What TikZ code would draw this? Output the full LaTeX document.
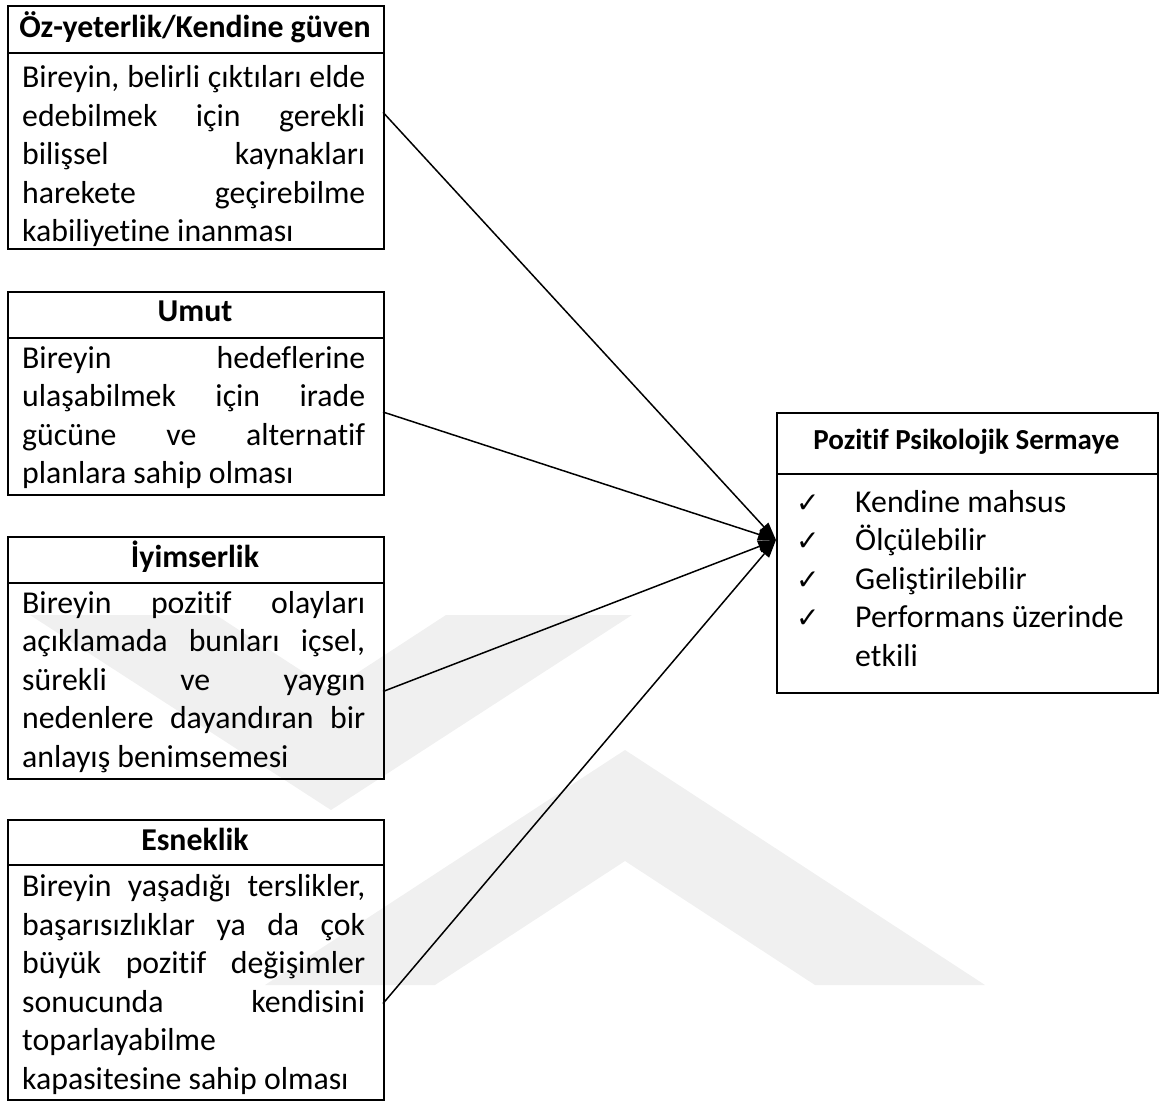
\documentclass[tikz,border=0pt]{standalone}
\usepackage{fontspec}
\setmainfont{Carlito}[Ligatures=CommonOff]
\newfontfamily\checkfont{DejaVu Sans}
\usetikzlibrary{arrows.meta,calc}
% one justified line of a box text, spread over the full text width
\newcommand{\jline}[1]{\makebox[343pt][s]{#1}}
\newcommand{\bodyfont}{\fontsize{31.8}{38.5}\selectfont\lineskiplimit=-100pt}
\begin{document}
\begin{tikzpicture}[x=1pt,y=-1pt,
  frame/.style={draw, line width=2pt, rectangle, inner sep=0pt, anchor=north west},
  head/.style={font=\bfseries\fontsize{31.8}{36}\selectfont, anchor=base, inner sep=0pt},
  smallhead/.style={font=\bfseries\fontsize{29}{32}\selectfont, anchor=base, inner sep=0pt},
  bodytext/.style={font=\bodyfont, anchor=base west, inner sep=0pt},
  tick/.style={font=\checkfont\fontsize{28}{30}\selectfont, anchor=base west, inner sep=0pt},
  link/.style={line width=1.5pt, -{Triangle[length=18pt,width=12pt]}},
  mark band/.style={fill=black!6, draw=none},
]
\useasboundingbox (0,0) rectangle (1162,1102);

% ---- faint background emblem ----
\fill[mark band] (30,615) -- (331,810) -- (632,615) -- (446,615) -- (331,690) -- (216,615) -- cycle;
\fill[mark band] (265,985) -- (625,750) -- (985,985) -- (815,985) -- (625,861) -- (435,985) -- cycle;

% ---- Öz-yeterlik ----
\node[frame, minimum width=376pt, minimum height=47.3pt] (h1) at (7,5) {};
\node[frame, minimum width=376pt, minimum height=195.7pt] (b1) at (7,52.3) {};
\node[head] (n1) at (195,38) {Öz-yeterlik/Kendine güven};
\node[bodytext] (t1) at (22,88) {\parbox[t]{343pt}{\bodyfont
  \jline{Bireyin, belirli çıktıları elde}\\
  \jline{edebilmek için gerekli}\\
  \jline{bilişsel kaynakları}\\
  \jline{harekete geçirebilme}\\
  kabiliyetine inanması}};

% ---- Umut ----
\node[frame, minimum width=376pt, minimum height=46pt] (h2) at (7,291) {};
\node[frame, minimum width=376pt, minimum height=157pt] (b2) at (7,337) {};
\node[head] (n2) at (195,321.7) {Umut};
\node[bodytext] (t2) at (22,368) {\parbox[t]{343pt}{\bodyfont
  \jline{Bireyin hedeflerine}\\
  \jline{ulaşabilmek için irade}\\
  \jline{gücüne ve alternatif}\\
  planlara sahip olması}};

% ---- İyimserlik ----
\node[frame, minimum width=376pt, minimum height=46pt] (h3) at (7,535.5) {};
\node[frame, minimum width=376pt, minimum height=196pt] (b3) at (7,581.5) {};
\node[head] (n3) at (195,567) {İyimserlik};
\node[bodytext] (t3) at (22,613) {\parbox[t]{343pt}{\bodyfont
  \jline{Bireyin pozitif olayları}\\
  \jline{açıklamada bunları içsel,}\\
  \jline{sürekli ve yaygın}\\
  \jline{nedenlere dayandıran bir}\\
  anlayış benimsemesi}};

% ---- Esneklik ----
\node[frame, minimum width=376pt, minimum height=44.5pt] (h4) at (7,819) {};
\node[frame, minimum width=376pt, minimum height=235pt] (b4) at (7,863.5) {};
\node[head] (n4) at (195,850) {Esneklik};
\node[bodytext] (t4) at (22,896.7) {\parbox[t]{343pt}{\bodyfont
  \jline{Bireyin yaşadığı terslikler,}\\
  \jline{başarısızlıklar ya da çok}\\
  \jline{büyük pozitif değişimler}\\
  \jline{sonucunda kendisini}\\
  toparlayabilme\\
  kapasitesine sahip olması}};

% ---- Pozitif Psikolojik Sermaye ----
\node[frame, minimum width=381pt, minimum height=61pt] (rh) at (776,412) {};
\node[frame, minimum width=381pt, minimum height=219pt] (rb) at (776,473) {};
\node[smallhead] (rn) at (966.5,449.3) {Pozitif Psikolojik Sermaye};
\node[tick] (c1) at (796,512) {✓};
\node[tick] (c2) at (796,550.5) {✓};
\node[tick] (c3) at (796,589) {✓};
\node[tick] (c4) at (796,627.5) {✓};
\node[bodytext] (p1) at (855,512) {Kendine mahsus};
\node[bodytext] (p2) at (855,550.5) {Ölçülebilir};
\node[bodytext] (p3) at (855,589) {Geliştirilebilir};
\node[bodytext] (p4) at (855,627.5) {Performans üzerinde};
\node[bodytext] (p5) at (855,666) {etkili};

% ---- connectors ----
\coordinate (s1) at ($(b1.north east)+(-2,60)$);
\coordinate (s2) at ($(b2.north east)+(-2,75)$);
\coordinate (s3) at ($(b3.north east)+(-2,110)$);
\coordinate (s4) at ($(b4.north east)+(-2,140)$);
\coordinate (tip) at ($(rb.north west)+(0,67)$);
\draw[link] (s1) -- (tip);
\draw[link] (s2) -- (tip);
\draw[link] (s3) -- (tip);
\draw[link] (s4) -- (tip);
\end{tikzpicture}
\end{document}
